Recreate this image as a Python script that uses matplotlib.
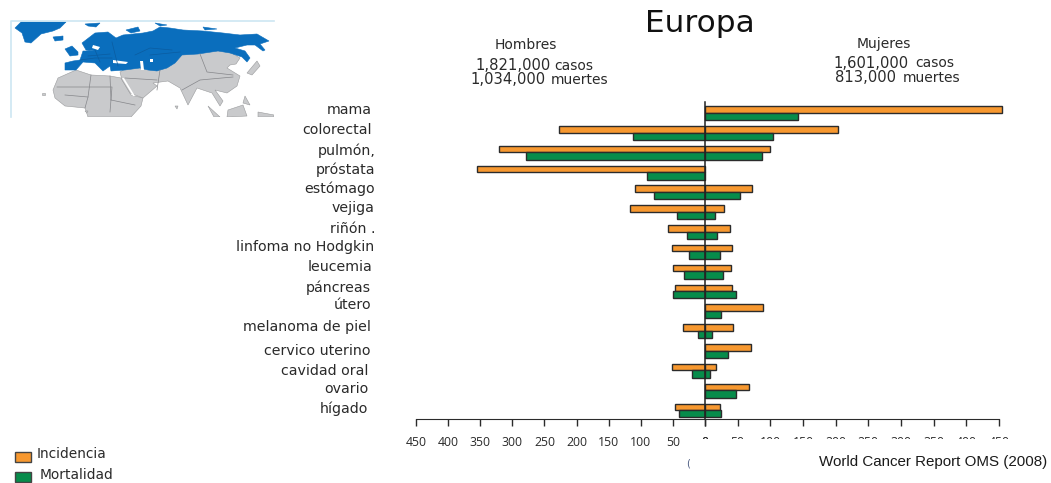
"""Cancer incidence and mortality in Europe by site, split by sex."""

import matplotlib
matplotlib.use("Agg")
import matplotlib.pyplot as plt
from matplotlib.patches import Polygon, Rectangle

W, H = 1051, 483

sites = ["mama", "colorectal", "pulmón,", "próstata", "estómago", "vejiga", "riñón .",
         "linfoma no Hodgkin", "leucemia", "páncreas", "útero", "melanoma de piel",
         "cervico uterino", "cavidad oral", "ovario", "hígado"]

men_incidence = [0, 227, 321, 355, 109, 117, 58, 51, 50, 46, 0, 35, 0, 51, 0, 46]
men_mortality = [0, 112, 279, 90, 79, 44, 28, 25, 33, 50, 0, 11, 0, 20, 0, 40]
women_incidence = [455, 204, 100, 0, 72, 29, 38, 42, 40, 42, 89, 43, 70, 17, 68, 23]
women_mortality = [142, 104, 88, 0, 54, 15, 19, 23, 28, 47, 24, 10, 35, 7, 47, 24]

tick_values = [0, 50, 100, 150, 200, 250, 300, 350, 400, 450]

ORANGE = "#F7982F"
GREEN = "#078C4B"
EDGE = "#2b2b2b"
TEXT = "#2a2a2a"
MAP_BLUE = "#0A6EBD"
MAP_GREY = "#C9CACC"

# right edge and centre of each site label, in pixels
label_x = [372, 372, 376, 375, 375, 374, 375, 374, 372, 371, 371, 371, 371, 368, 368, 368]
label_y = [110, 130, 151, 170, 189, 208, 229, 247, 267, 288, 305, 327, 351, 371, 389, 409]

# rough outlines for the locator map, in pixels
blue_land = [
    [(21, 22), (66, 22), (60, 28), (53, 31), (41, 34), (31, 43), (25, 42), (22, 33), (15, 28)],
    [(53, 37), (63, 36), (63, 40), (55, 41)],
    [(85, 24), (100, 23), (96, 27), (88, 26)],
    [(65, 49), (72, 46), (78, 52), (78, 55), (70, 56)],
    [(126, 30), (138, 27), (140, 31), (131, 33)],
    [(155, 23), (167, 25), (160, 26)],
    [(203, 27), (217, 29), (205, 30)],
    [(65, 63), (65, 70), (76, 70), (83, 62), (95, 63), (103, 71), (110, 66), (111, 71),
     (125, 70), (140, 68), (148, 70), (157, 71), (167, 68), (175, 63), (182, 55), (198, 54),
     (218, 51), (230, 53), (242, 57), (247, 62), (250, 58), (245, 51), (235, 48), (247, 45),
     (255, 45), (263, 51), (265, 50), (260, 44), (269, 41), (257, 34), (240, 35), (223, 33),
     (203, 31), (183, 30), (170, 28), (160, 27), (153, 31), (143, 33), (123, 35), (116, 38),
     (108, 32), (95, 33), (82, 43), (86, 50), (94, 51), (83, 51), (80, 60), (73, 61)],
]
grey_land = [
    [(53, 90), (58, 78), (76, 70), (91, 75), (110, 76), (121, 78), (131, 95), (143, 98),
     (141, 106), (131, 117), (88, 117), (85, 108), (65, 106), (55, 98)],
    [(120, 72), (125, 69), (140, 67), (157, 70), (167, 67), (175, 62), (182, 54), (198, 53),
     (218, 50), (230, 52), (240, 58), (236, 64), (230, 65), (227, 68), (240, 76), (237, 86),
     (227, 93), (215, 90), (223, 101), (220, 106), (212, 93), (197, 88), (188, 105), (180, 88),
     (168, 81), (153, 83), (157, 86), (143, 98), (130, 93), (122, 80)],
    [(247, 73), (257, 61), (260, 66), (252, 75)],
    [(208, 106), (220, 117), (214, 117)],
    [(228, 110), (243, 105), (247, 116), (227, 117)],
    [(245, 96), (250, 105), (243, 103)],
    [(258, 112), (274, 115), (274, 117), (258, 117)],
    [(175, 106), (178, 106), (177, 109)],
    [(42, 93), (45, 93), (45, 95), (42, 95)],
    [(85, 111), (88, 111), (87, 113)],
]
water = [
    [(113, 60), (128, 62), (126, 64), (113, 63)],
    [(140, 61), (143, 61), (144, 70), (141, 70)],
    [(150, 59), (153, 59), (153, 62), (150, 62)],
    [(93, 45), (100, 47), (98, 50), (92, 48)],
    [(122, 78), (124, 78), (135, 96), (133, 96)],
]
grey_borders = [
    [(91, 75), (88, 97), (85, 108)], [(57, 87), (112, 87), (110, 112)], [(110, 76), (111, 100)],
    [(157, 90), (160, 70)], [(182, 90), (200, 80), (233, 77)], [(200, 54), (207, 72), (233, 75)],
    [(125, 78), (157, 80)], [(65, 95), (88, 97)], [(111, 100), (135, 105)],
]
blue_borders = [
    [(80, 60), (95, 58), (112, 58)], [(95, 50), (100, 62)], [(112, 42), (118, 66)],
    [(150, 55), (180, 52)], [(135, 55), (150, 48), (172, 50)], [(88, 56), (110, 54)],
]


def to_fig(x, y):
    return x / W, 1 - y / H


def put(fig, x, y, s, size=8.5, ha="left", family="DejaVu Sans", color=TEXT, **kw):
    fx, fy = to_fig(x, y)
    return fig.text(fx, fy, s, fontsize=size, ha=ha, va="center", family=family, color=color, **kw)


def axes_px(fig, x0, y0, x1, y1):
    fx0, fy1 = to_fig(x0, y0)
    fx1, fy0 = to_fig(x1, y1)
    return fig.add_axes([fx0, fy0, fx1 - fx0, fy1 - fy0])


def draw_side(ax, incidence, mortality):
    """Paired horizontal bars for one sex."""
    for i in range(len(sites)):
        if incidence[i] > 0:
            ax.barh(i - 0.165, incidence[i], height=0.33, color=ORANGE, edgecolor=EDGE,
                    linewidth=1.0, clip_on=False, zorder=2)
        if mortality[i] > 0:
            ax.barh(i + 0.185, mortality[i], height=0.37, color=GREEN, edgecolor=EDGE,
                    linewidth=1.0, clip_on=False, zorder=2)
    ax.set_ylim(15.45, -0.54)
    ax.set_yticks([])
    ax.set_xticks(tick_values)
    ax.tick_params(axis="x", length=5, width=1, color=EDGE, pad=7, labelsize=8.8,
                   labelcolor=TEXT)
    for lab in ax.get_xticklabels():
        lab.set_family("Open Sans")
    for side in ["top", "left", "right"]:
        ax.spines[side].set_visible(False)
    ax.spines["bottom"].set_color(EDGE)
    ax.patch.set_visible(False)


def draw_map(fig):
    ax = axes_px(fig, 10, 20, 274, 117)
    ax.set_xlim(10, 274)
    ax.set_ylim(117, 20)
    ax.axis("off")
    for shape in grey_land:
        ax.add_patch(Polygon(shape, closed=True, facecolor=MAP_GREY, edgecolor="#9a9b9d", linewidth=0.4))
    for line in grey_borders:
        ax.plot(*zip(*line), color="#85868a", linewidth=0.5)
    for shape in blue_land:
        ax.add_patch(Polygon(shape, closed=True, facecolor=MAP_BLUE, edgecolor=MAP_BLUE, linewidth=0.4))
    for line in blue_borders:
        ax.plot(*zip(*line), color="#0A5CA0", linewidth=0.5)
    for shape in water:
        ax.add_patch(Polygon(shape, closed=True, facecolor="white", edgecolor="none"))
    ax.plot([11, 11, 274], [117, 20.5, 20.5], color="#CDE6F2", linewidth=1.2, clip_on=False)


def main():
    fig = plt.figure(figsize=(W / 100, H / 100), dpi=100, facecolor="white")

    left = axes_px(fig, 416, 102, 705, 419)
    left.set_xlim(450, 0)
    draw_side(left, men_incidence, men_mortality)

    right = axes_px(fig, 705, 102, 999, 419)
    right.set_xlim(0, 450)
    draw_side(right, women_incidence, women_mortality)
    right.axvline(0, color="#222222", linewidth=1.1, zorder=3, clip_on=False)

    # lower part of the women's tick labels is masked
    x0, y0 = to_fig(690, 448)
    x1, y1 = to_fig(1025, 438.5)
    fig.add_artist(Rectangle((x0, y0), x1 - x0, y1 - y0, transform=fig.transFigure,
                             facecolor="white", edgecolor="none", zorder=5))

    draw_map(fig)

    for name, x, y in zip(sites, label_x, label_y):
        put(fig, x, y, name, size=10.2, ha="right")

    put(fig, 700, 23, "Europa", size=22.4, ha="center", color="#111111")
    put(fig, 526, 45, "Hombres", size=10, ha="center")
    put(fig, 884, 44, "Mujeres", size=10, ha="center")
    put(fig, 475, 66, "1,821,000", size=10.6)
    put(fig, 554, 66, "casos", size=10)
    put(fig, 470, 80, "1,034,000", size=10.6)
    put(fig, 551, 80, "muertes", size=10)
    put(fig, 833, 63, "1,601,000", size=10.6)
    put(fig, 915, 63, "casos", size=10)
    put(fig, 835, 78, "813,000", size=10.6)
    put(fig, 903, 78, "muertes", size=10)

    # legend
    for y, color, name, tx, ty in [(452, ORANGE, "Incidencia", 37, 454),
                                   (472, GREEN, "Mortalidad", 40, 475)]:
        fx, fy = to_fig(15, y + 10)
        fig.add_artist(Rectangle((fx, fy), 16 / W, 10 / H, transform=fig.transFigure,
                                 facecolor=color, edgecolor="#444444", linewidth=1.0))
        put(fig, tx, ty, name, size=9.9)

    put(fig, 688, 464, "(", size=7, ha="center", color="#4a5a80")
    put(fig, 1047, 462, "World Cancer Report OMS (2008)", size=10.9, ha="right",
        family=["Liberation Sans Narrow", "Liberation Sans"], color="#1a1a1a", zorder=6)

    fig.savefig("out.png", dpi=100)
    plt.close(fig)


if __name__ == "__main__":
    main()
